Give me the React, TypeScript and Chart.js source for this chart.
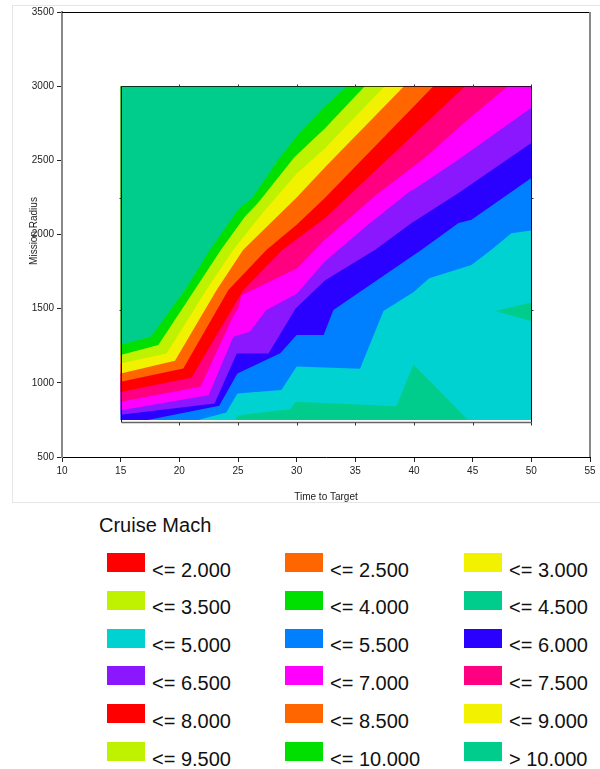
import React, { useEffect, useRef } from "react";
import { Chart, registerables } from "chart.js";

Chart.register(...registerables);

const FONT = "'Liberation Sans', Arial, Helvetica, sans-serif";

// ---- legend / contour levels ----
const LEVEL_LABELS = [
  "<= 2.000", "<= 2.500", "<= 3.000", "<= 3.500", "<= 4.000", "<= 4.500",
  "<= 5.000", "<= 5.500", "<= 6.000", "<= 6.500", "<= 7.000", "<= 7.500",
  "<= 8.000", "<= 8.500", "<= 9.000", "<= 9.500", "<= 10.000", "> 10.000",
];
const LEVEL_LIMITS = [2.0, 2.5, 3.0, 3.5, 4.0, 4.5, 5.0, 5.5, 6.0, 6.5, 7.0, 7.5, 8.0, 8.5, 9.0, 9.5, 10.0];
const LEVEL_COLORS = [
  "#ff0000", "#ff6600", "#f2f200", "#bff200", "#00e000", "#00cc8c",
  "#00d2d2", "#0080ff", "#2a00ff", "#8b17ff", "#ff00ff", "#ff0080",
  "#ff0000", "#ff6600", "#f2f200", "#bff200", "#00e000", "#00cc8c",
];

// ---- axes ----
const X_MIN = 10, X_MAX = 55, X_STEP = 5;
const Y_MIN = 500, Y_MAX = 3500, Y_STEP = 500;

// ---- data grid extent (Time to Target x Mission Radius) ----
const GRID_T = [15, 50];
const GRID_R = [750, 3000];
const FRAME_R_BOTTOM = 735;
const FRAME_TICKS_T = [20, 25, 30, 35, 40, 45, 50];
const FRAME_TICKS_R = [1490, 2245];

// ---- regions with Mach <= 4.5 (islands) ----
const ISLAND_BOTTOM: [number, number][] = [
  [24.8, 750], [24.95, 780], [28.6, 815], [29.4, 820], [29.95, 872], [38.5, 842], [39.95, 1124], [44.6, 750],
];
const ISLAND_RIGHT: [number, number][] = [[46.9, 1484], [50, 1541], [50, 1417]];

// ---- contour boundaries (Mach level -> polyline [time, radius]) ----
const B50: [number, number][] = [
  [21.6, 750], [24.0, 800], [24.95, 928], [28.7, 951], [30.0, 1110], [35.4, 1095], [37.4, 1485],
  [39.95, 1610], [41.3, 1705], [44.9, 1795], [46.6, 1897], [48.3, 2009], [50, 2027],
];
const B55: [number, number][] = [
  [17.3, 750], [23.4, 845], [24.95, 1063], [28.6, 1199], [30.0, 1322], [32.3, 1322], [33.13, 1491],
  [40.65, 1897], [43.8, 2077], [44.9, 2099], [50, 2381],
];
const B60: [number, number][] = [
  [15, 785], [23.0, 860], [24.9, 1198], [27.6, 1198], [29.9, 1500], [32.4, 1690], [36.7, 1897],
  [39.8, 2077], [43.8, 2280], [50, 2617],
];
const B65: [number, number][] = [
  [15, 815], [22.5, 917], [24.6, 1310], [26.0, 1345], [27.4, 1490], [30.0, 1600], [32.4, 1818],
  [36.0, 2060], [39.66, 2291], [39.94, 2302], [43.8, 2505], [50, 2854],
];
const B70: [number, number][] = [
  [15, 872], [21.8, 973], [24.6, 1450], [25.0, 1500], [25.3, 1590], [30.0, 1770], [32.4, 1964],
  [36.8, 2268], [40.9, 2516], [44.6, 2775], [48.0, 3000],
];
const B75: [number, number][] = [
  [15, 939], [21.05, 1036], [25.45, 1626], [28.8, 1897], [32.4, 2110], [44.35, 3000],
];
const B80: [number, number][] = [
  [15, 1007], [20.34, 1097], [24.18, 1626], [27.44, 1897], [30.0, 2065], [32.4, 2246], [41.65, 3000],
];
const B85: [number, number][] = [
  [15, 1063], [19.63, 1149], [23.18, 1626], [25.45, 1897], [30.0, 2250], [32.5, 2460], [39.15, 3000],
];
const B90: [number, number][] = [
  [15, 1131], [18.92, 1198], [22.3, 1626], [24.6, 1897], [27.2, 2155], [30.0, 2410], [32.4, 2580], [37.5, 3000],
];
const B95: [number, number][] = [
  [15, 1187], [18.21, 1255], [21.3, 1626], [23.55, 1897], [25.6, 2122], [26.7, 2212], [29.8, 2520],
  [32.4, 2715], [35.8, 3000],
];
const B100: [number, number][] = [
  [15, 1257], [17.58, 1311], [20.48, 1626], [22.61, 1897], [25.0, 2167], [26.2, 2246], [28.44, 2505],
  [30.0, 2662], [32.4, 2865], [34.3, 3000],
];

const BOUNDARIES: [number, [number, number][]][] = [
  [5.0, B50], [5.5, B55], [6.0, B60], [6.5, B65], [7.0, B70], [7.5, B75],
  [8.0, B80], [8.5, B85], [9.0, B90], [9.5, B95], [10.0, B100],
];

function colorAbove(level: number) {
  const i = LEVEL_LIMITS.findIndex((t) => t > level);
  return LEVEL_COLORS[i < 0 ? LEVEL_COLORS.length - 1 : i];
}
function colorAtOrBelow(level: number) {
  return LEVEL_COLORS[LEVEL_LIMITS.indexOf(level)];
}

// polygon of the region "above" a boundary (toward the top-left corner)
function regionAbove(line: [number, number][]) {
  const pts = line.map(([x, y]) => ({ x, y }));
  const first = line[0];
  const last = line[line.length - 1];
  if (last[0] >= GRID_T[1] && last[1] < GRID_R[1]) pts.push({ x: GRID_T[1], y: GRID_R[1] });
  pts.push({ x: GRID_T[0], y: GRID_R[1] });
  if (first[1] <= GRID_R[0] && first[0] > GRID_T[0]) pts.push({ x: GRID_T[0], y: GRID_R[0] });
  return pts;
}

function polyDataset(points: { x: number; y: number }[], color: string) {
  return {
    data: points,
    fill: "shape",
    backgroundColor: color,
    borderColor: color,
    borderWidth: 0,
    pointRadius: 0,
    tension: 0,
  };
}

const framePlugin = {
  id: "frames",
  afterDraw(chart: any) {
    const { ctx, chartArea: a, scales } = chart;
    const x = scales.x, y = scales.y;
    ctx.save();
    // outer plot box: top (black) and right (grey)
    ctx.strokeStyle = "#000";
    ctx.lineWidth = 1;
    ctx.beginPath();
    ctx.moveTo(a.left, a.top + 0.5);
    ctx.lineTo(a.right, a.top + 0.5);
    ctx.stroke();
    ctx.strokeStyle = "#888";
    ctx.lineWidth = 2;
    ctx.beginPath();
    ctx.moveTo(a.right, a.top);
    ctx.lineTo(a.right, a.bottom);
    ctx.stroke();

    // data frame
    const l = Math.round(x.getPixelForValue(GRID_T[0])) + 0.5;
    const r = Math.round(x.getPixelForValue(GRID_T[1])) + 0.5;
    const t = Math.round(y.getPixelForValue(GRID_R[1])) + 0.5;
    const b = Math.round(y.getPixelForValue(FRAME_R_BOTTOM)) + 0.5;
    ctx.lineWidth = 1;
    ctx.strokeStyle = "rgba(0,0,0,0.75)";
    ctx.beginPath();
    ctx.moveTo(l, t);
    ctx.lineTo(r, t);
    ctx.stroke();
    ctx.strokeStyle = "#111";
    ctx.beginPath();
    ctx.moveTo(l, t);
    ctx.lineTo(l, b);
    ctx.moveTo(r, t);
    ctx.lineTo(r, b);
    ctx.stroke();
    ctx.strokeStyle = "#666";
    ctx.lineWidth = 1.5;
    ctx.beginPath();
    ctx.moveTo(l, b);
    ctx.lineTo(r, b);
    ctx.stroke();
    ctx.lineWidth = 1;
    ctx.strokeStyle = "#333";
    ctx.beginPath();
    for (const v of FRAME_TICKS_T) {
      const px = Math.round(x.getPixelForValue(v)) + 0.5;
      ctx.moveTo(px, t);
      ctx.lineTo(px, t - 2);
      ctx.moveTo(px, b);
      ctx.lineTo(px, b + 3);
    }
    for (const v of FRAME_TICKS_R) {
      const py = Math.round(y.getPixelForValue(v)) + 0.5;
      ctx.moveTo(l, py);
      ctx.lineTo(l - 2, py);
      ctx.moveTo(r, py);
      ctx.lineTo(r + 2, py);
    }
    ctx.stroke();
    ctx.restore();
  },
};

function ContourChart() {
  const ref = useRef<HTMLCanvasElement>(null);
  useEffect(() => {
    if (!ref.current) return;
    const layers: any[] = [];
    layers.push(
      polyDataset(
        [
          { x: GRID_T[0], y: GRID_R[0] },
          { x: GRID_T[1], y: GRID_R[0] },
          { x: GRID_T[1], y: GRID_R[1] },
          { x: GRID_T[0], y: GRID_R[1] },
        ],
        colorAtOrBelow(5.0)
      )
    );
    for (const isl of [ISLAND_BOTTOM, ISLAND_RIGHT]) {
      layers.push(polyDataset(isl.map(([x, y]) => ({ x, y })), colorAtOrBelow(4.5)));
    }
    for (const [lvl, line] of BOUNDARIES) {
      layers.push(polyDataset(regionAbove(line), colorAbove(lvl)));
    }
    // Chart.js draws dataset 0 last (on top) -> reverse
    const datasets = layers.reverse();

    const tickFont = { family: FONT, size: 10 };
    const plain = (v: any) => String(v);
    const chart = new Chart(ref.current, {
      type: "line",
      data: { datasets },
      options: {
        animation: false,
        responsive: false,
        events: [],
        layout: { padding: { top: 12, right: 10, left: 0, bottom: 0 } },
        plugins: { legend: { display: false }, tooltip: { enabled: false } },
        scales: {
          x: {
            type: "linear",
            min: X_MIN,
            max: X_MAX,
            ticks: { stepSize: X_STEP, font: tickFont, color: "#222", padding: 3, maxRotation: 0, callback: plain },
            grid: { drawOnChartArea: false, tickLength: 5, color: "#222" },
            border: { color: "#000", width: 1 },
            title: {
              display: true,
              text: "Time to Target",
              font: tickFont,
              color: "#222",
              padding: { top: 0, bottom: 7 },
            },
            afterFit(s: any) {
              s.height = 53;
            },
          },
          y: {
            type: "linear",
            min: Y_MIN,
            max: Y_MAX,
            ticks: { stepSize: Y_STEP, font: tickFont, color: "#222", padding: 3, callback: plain },
            grid: { drawOnChartArea: false, tickLength: 5, color: "#222" },
            border: { color: "#888", width: 2 },
            afterFit(s: any) {
              s.width = 62;
            },
          },
        },
      } as any,
      plugins: [framePlugin],
    });
    return () => chart.destroy();
  }, []);
  return (
    <canvas
      ref={ref}
      width={600}
      height={510}
      style={{ position: "absolute", left: 0, top: 0, width: 600, height: 510 }}
    />
  );
}

const LEGEND_COL_X = [107, 285, 464];
const LEGEND_ROW_Y0 = 553;
const LEGEND_ROW_STEP = 37.8;

export default function App() {
  return (
    <div style={{ position: "absolute", left: 0, top: 0, width: 600, height: 769, overflow: "hidden", fontFamily: FONT, background: "#fff" }}>
      <div style={{ position: "absolute", left: 12, top: 5, width: 700, height: 498, border: "1px solid #e6e6e6", boxSizing: "border-box" }} />
      <ContourChart />
      <div
        style={{
          position: "absolute",
          left: 34 - 50,
          top: 231 - 6,
          width: 100,
          height: 12,
          lineHeight: "12px",
          fontSize: 10,
          color: "#222",
          textAlign: "center",
          transform: "rotate(-90deg)",
          whiteSpace: "nowrap",
        }}
      >
        Mission Radius
      </div>
      <div style={{ position: "absolute", left: 99, top: 515, fontSize: 20, lineHeight: "20px", color: "#111", whiteSpace: "nowrap" }}>
        Cruise Mach
      </div>
      {LEVEL_LABELS.map((lab, i) => {
        const col = i % 3;
        const row = Math.floor(i / 3);
        const sx = LEGEND_COL_X[col];
        const sy = LEGEND_ROW_Y0 + row * LEGEND_ROW_STEP;
        return (
          <React.Fragment key={lab}>
            <div style={{ position: "absolute", left: sx, top: sy, width: 38, height: 19, background: LEVEL_COLORS[i] }} />
            <div
              style={{
                position: "absolute",
                left: sx + 45,
                top: sy + 6.5,
                fontSize: 20,
                lineHeight: "20px",
                color: "#111",
                whiteSpace: "nowrap",
              }}
            >
              {lab}
            </div>
          </React.Fragment>
        );
      })}
    </div>
  );
}
